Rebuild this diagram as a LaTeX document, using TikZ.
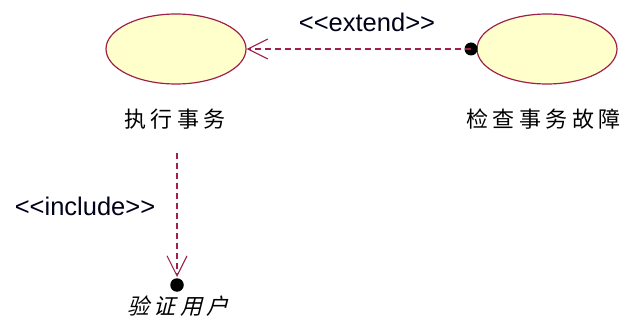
\documentclass[tikz,border=0pt]{standalone}
\usepackage{fontspec}
\setmainfont{Liberation Sans}
\newfontfamily\cjk{Noto Sans CJK SC}
\newfontfamily\cjkit[FakeSlant=0.25]{Noto Sans CJK SC}
\usetikzlibrary{arrows.meta,shapes.geometric}
\definecolor{ucfill}{HTML}{FFFFCC}
\definecolor{ucline}{HTML}{A0204C}
\newcommand\cjkgap{\kern4.5pt}
\newcommand\lt{<\kern0pt}
\newcommand\gtt{>\kern0pt}
\begin{document}
\begin{tikzpicture}[x=1pt,y=-1pt,
  usecase/.style={ellipse,draw=ucline,fill=ucfill,line width=1.2pt,minimum width=140pt,minimum height=70pt,inner sep=0pt},
  cjklbl/.style={font=\cjk\fontsize{22}{26}\selectfont,inner sep=0pt,text=black},
  stereo/.style={font=\fontsize{25.5}{28}\selectfont,inner sep=0pt,text=black!90!blue},
  dep/.style={draw=ucline,line width=1.1pt,dash pattern=on 6pt off 4pt,-{Straight Barb[length=20pt,width=20pt,line width=1.1pt]}},
  blob/.style={circle,fill=black,inner sep=0pt,minimum size=13pt}]
\useasboundingbox (0,0) rectangle (628,320);
\node[usecase] (exec) at (176,49) {};
\node[usecase] (check) at (547,49) {};
\node[cjklbl] (execl) at (175,119) {执\cjkgap 行\cjkgap 事\cjkgap 务};
\node[cjklbl] (checkl) at (543.5,119) {检\cjkgap 查\cjkgap 事\cjkgap 务\cjkgap 故\cjkgap 障};
\node[cjklbl,font=\cjkit\fontsize{22}{26}\selectfont] (verify) at (178,306) {验\cjkgap 证\cjkgap 用\cjkgap 户};
\node[stereo] (extl) at (367,22) {\lt\lt extend\gtt\gtt};
\node[stereo] (incl) at (85,206) {\lt\lt include\gtt\gtt};
\node[blob] (edot) at (471,49) {};
\node[blob,minimum size=13.5pt] (idot) at (177,285) {};
\coordinate (incstart) at (177,153);
\coordinate (inctip) at (177,277);
\draw[dep] (edot.center) -- (exec.east);
\draw[dep] (incstart) -- (inctip);
\end{tikzpicture}
\end{document}
